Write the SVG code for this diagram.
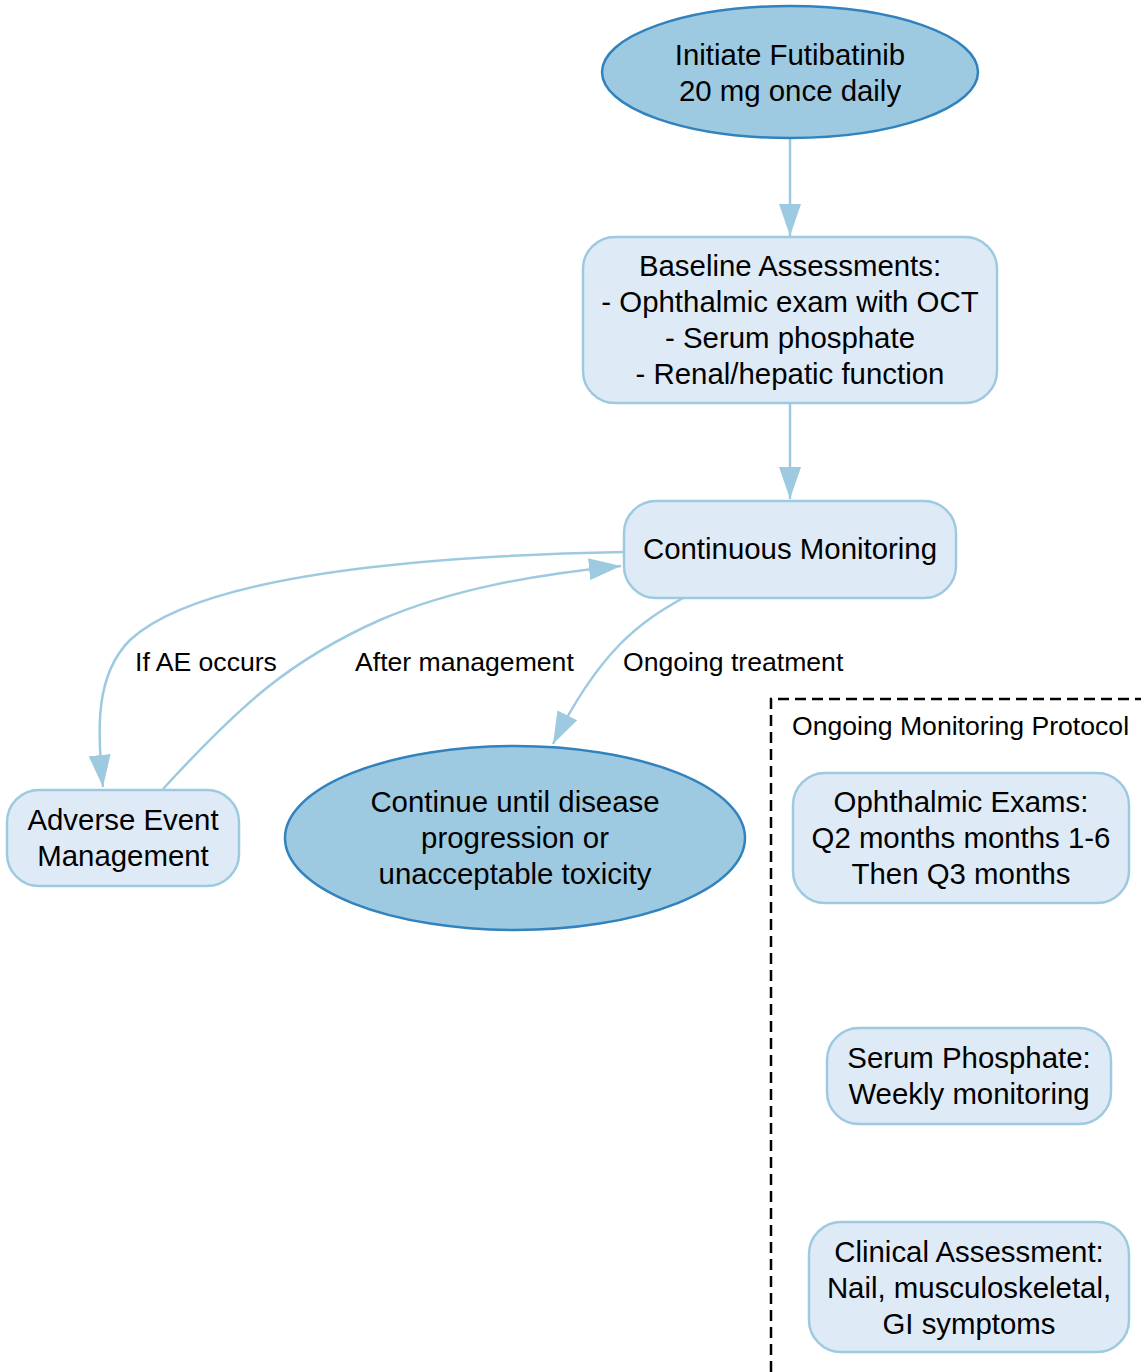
<svg xmlns="http://www.w3.org/2000/svg" width="1141" height="1372" viewBox="0 0 1141 1372">
<defs>
<style>
.ell{fill:#9ecae1;stroke:#3182bd;stroke-width:2.5}
.box{fill:#deebf7;stroke:#9ecae1;stroke-width:2.5}
.t{font-family:"Liberation Sans",Arial,sans-serif;font-size:29.4px;fill:#000;text-anchor:middle}
.lbl{font-family:"Liberation Sans",Arial,sans-serif;font-size:26.6px;fill:#000;text-anchor:start}
.edge{fill:none;stroke:#9ecae1;stroke-width:2.5}
.cluster{fill:none;stroke:#000;stroke-width:2.5;stroke-dasharray:11,6}
</style>
<marker id="ah" viewBox="0 0 32 22" refX="32" refY="11" markerWidth="32" markerHeight="22" markerUnits="userSpaceOnUse" orient="auto">
<path d="M0,0 L32,11 L0,22 z" fill="#9ecae1"/>
</marker>
</defs>
<rect width="1141" height="1372" fill="#fff"/>
<g id="cluster-ongoing">
<path class="cluster" d="M771,1372 L771,699 L1141,699"/>
<text class="lbl" x="792" y="735">Ongoing Monitoring Protocol</text>
</g>
<g id="connectors">
<path class="edge" d="M790,138 L790,236" marker-end="url(#ah)"/>
<path class="edge" d="M790,403 L790,499" marker-end="url(#ah)"/>
<path class="edge" d="M624,552 C420,556 200,575 130,640 C95,675 97,730 103,787" marker-end="url(#ah)"/>
<path class="edge" d="M163,789 C240,705 290,660 380,620 C450,590 530,575 621,566" marker-end="url(#ah)"/>
<path class="edge" d="M683,598 C640,622 600,650 553,744" marker-end="url(#ah)"/>
<text class="lbl" x="135" y="671">If AE occurs</text>
<text class="lbl" x="355" y="671">After management</text>
<text class="lbl" x="623" y="671">Ongoing treatment</text>
</g>
<g id="initiate">
<ellipse class="ell" cx="790" cy="72" rx="188" ry="66"/>
<text class="t" x="790" y="65">Initiate Futibatinib</text>
<text class="t" x="790" y="101">20 mg once daily</text>
</g>
<g id="baseline">
<rect class="box" x="583" y="237" width="414" height="166" rx="32"/>
<text class="t" x="790" y="276">Baseline Assessments:</text>
<text class="t" x="790" y="312">- Ophthalmic exam with OCT</text>
<text class="t" x="790" y="348">- Serum phosphate</text>
<text class="t" x="790" y="384">- Renal/hepatic function</text>
</g>
<g id="monitoring">
<rect class="box" x="624" y="501" width="332" height="97" rx="32"/>
<text class="t" x="790" y="559">Continuous Monitoring</text>
</g>
<g id="adverse">
<rect class="box" x="7" y="790" width="232" height="96" rx="32"/>
<text class="t" x="123" y="830">Adverse Event</text>
<text class="t" x="123" y="866">Management</text>
</g>
<g id="continue">
<ellipse class="ell" cx="515" cy="838" rx="230" ry="92"/>
<text class="t" x="515" y="812">Continue until disease</text>
<text class="t" x="515" y="848">progression or</text>
<text class="t" x="515" y="884">unacceptable toxicity</text>
</g>
<g id="ophthalmic">
<rect class="box" x="793" y="773" width="336" height="130" rx="32"/>
<text class="t" x="961" y="812">Ophthalmic Exams:</text>
<text class="t" x="961" y="848">Q2 months months 1-6</text>
<text class="t" x="961" y="884">Then Q3 months</text>
</g>
<g id="phosphate">
<rect class="box" x="827" y="1028" width="284" height="96" rx="32"/>
<text class="t" x="969" y="1068">Serum Phosphate:</text>
<text class="t" x="969" y="1104">Weekly monitoring</text>
</g>
<g id="clinical">
<rect class="box" x="809" y="1222" width="320" height="130" rx="32"/>
<text class="t" x="969" y="1262">Clinical Assessment:</text>
<text class="t" x="969" y="1298">Nail, musculoskeletal,</text>
<text class="t" x="969" y="1334">GI symptoms</text>
</g>
</svg>
